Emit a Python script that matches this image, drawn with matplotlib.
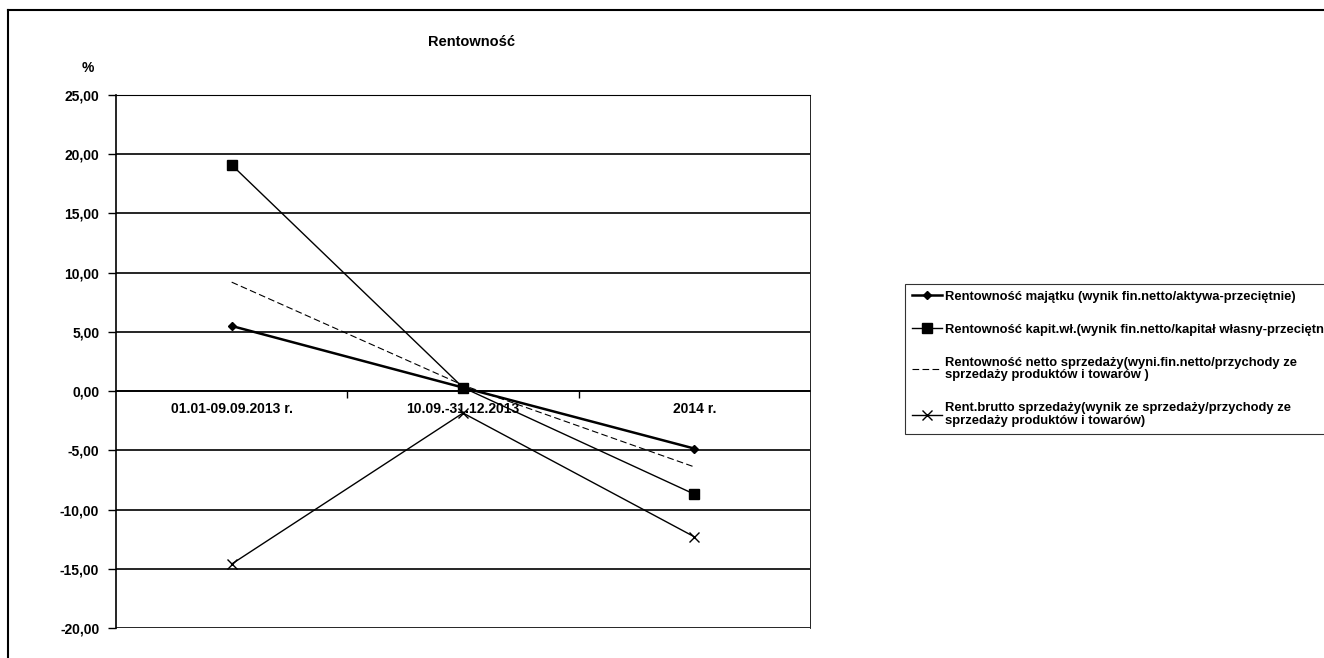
import matplotlib
matplotlib.use("Agg")
import matplotlib.pyplot as plt
from matplotlib.lines import Line2D

plt.rcParams['font.family'] = ['Liberation Sans', 'DejaVu Sans']

okresy = ["01.01-09.09.2013 r.", "10.09.-31.12.2013", "2014 r."]
majatek = [5.5, 0.3, -4.85]
kapital = [19.1, 0.3, -8.7]
netto = [9.2, 0.5, -6.4]
brutto = [-14.6, -1.85, -12.3]
nazwy = [
    "Rentowność majątku (wynik fin.netto/aktywa-przeciętnie)",
    "Rentowność kapit.wł.(wynik fin.netto/kapitał własny-przeciętnie)",
    "Rentowność netto sprzedaży(wyni.fin.netto/przychody ze\nsprzedaży produktów i towarów )",
    "Rent.brutto sprzedaży(wynik ze sprzedaży/przychody ze\nsprzedaży produktów i towarów)",
]
yticks = [-20, -15, -10, -5, 0, 5, 10, 15, 20, 25]

fig = plt.figure(figsize=(13.24, 6.58), dpi=100)
ax = fig.add_axes([116/1324, 1-628/658, (810-116)/1324, (628-95)/658])

x = range(len(okresy))
l1, = ax.plot(x, majatek, color='black', lw=1.8, marker='D', ms=4.5)
l2, = ax.plot(x, kapital, color='black', lw=1.0, marker='s', ms=6.5)
l3, = ax.plot(x, netto, color='black', lw=0.8, ls=(0, (6, 3)))
l4, = ax.plot(x, brutto, color='black', lw=1.0, marker='x', ms=7, mew=1)

ax.set_xlim(-0.5, 2.5)
ax.set_ylim(-20, 25)
ax.set_yticks(yticks)
ax.set_yticklabels([f"{v:.2f}".replace('.', ',') for v in yticks], fontsize=10, fontweight='bold')
ax.yaxis.grid(True, color='black', lw=1.2)
ax.set_axisbelow(True)

ax.spines['bottom'].set_position(('data', 0))
ax.spines['bottom'].set_linewidth(1.2)
ax.spines['left'].set_linewidth(1.2)
ax.spines['right'].set_linewidth(0.6)
ax.spines['top'].set_linewidth(0.8)
ax.set_xticks([0.5, 1.5])
ax.set_xticklabels([])
ax.tick_params(axis='x', direction='out', length=5, width=1)
ax.tick_params(axis='y', direction='out', length=6, width=1, pad=6)
for i, t in enumerate(okresy):
    ax.text(i, -1.5, t, ha='center', va='center', fontsize=10, fontweight='bold')

fig.text(472/1324, 1-42/658, "Rentowność", ha='center', va='center', fontsize=10.5, fontweight='bold')
fig.text(88/1324, 1-68/658, "%", ha='center', va='center', fontsize=10, fontweight='bold')

# legenda wychodzi poza prawa krawedz, tak jak w oryginale
leg = fig.legend([l1, l2, l3, l4], nazwy, loc='upper left', bbox_to_anchor=(905/1324, 1-284/658),
                 borderaxespad=0, fontsize=9.4, frameon=True, fancybox=False, edgecolor='black',
                 handlelength=2.3, labelspacing=1.6, borderpad=0.5, handletextpad=0.3)
leg.get_frame().set_linewidth(0.8)
for t in leg.get_texts():
    t.set_fontweight('bold')
    t.set_linespacing(1.1)

# ramka wykresu
fig.add_artist(Line2D([8/1324, 8/1324], [0, 1-10/658], color='black', lw=1.5))
fig.add_artist(Line2D([8/1324, 1], [1-10/658, 1-10/658], color='black', lw=1.5))

fig.savefig("out.png", dpi=100)
